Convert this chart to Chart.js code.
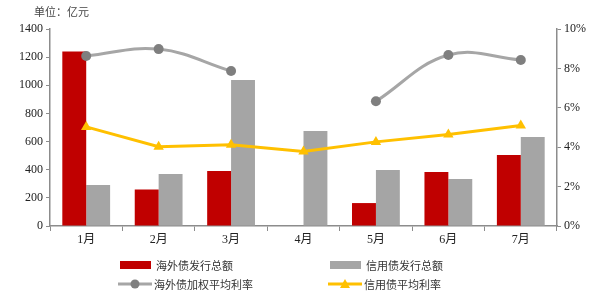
<!DOCTYPE html>
<html>
<head>
<meta charset="utf-8">
<script src="https://cdn.jsdelivr.net/npm/chart.js@4"></script>
<style>
  html, body { margin: 0; padding: 0; background: #fff; }
  #wrap { position: relative; width: 600px; height: 295px; }
</style>
</head>
<body>
<div id="wrap"><canvas id="c" width="600" height="295"></canvas></div>
<script>
// 月份
const months = ['1月', '2月', '3月', '4月', '5月', '6月', '7月'];
// 发行总额（亿元）
const overseasIssue = [1240, 260, 390, 0, 163, 384, 505];
const creditIssue = [292, 370, 1037, 675, 398, 334, 633];
// 利率（%）
const overseasRate = [8.63, 8.98, 7.87, null, 6.33, 8.68, 8.43];
const creditRate = [5.03, 4.02, 4.12, 3.78, 4.27, 4.64, 5.1];
// 刻度
const leftTicks = [0, 200, 400, 600, 800, 1000, 1200, 1400];
const rightTicks = [0, 2, 4, 6, 8, 10];

const axisGray = '#8c8c8c';
const tickFont = { family: "'Liberation Serif', 'Noto Sans CJK SC', serif", size: 12 };
const cjkFont = "11px 'Noto Sans CJK SC', sans-serif";

// 自绘两列图例 + 单位标注
const legendPlugin = {
  id: 'twoColLegend',
  afterDraw(chart) {
    const ctx = chart.ctx;
    const ds = chart.data.datasets;
    const pos = [[120, 265], [330, 265], [118, 284], [328, 284]];
    ctx.save();
    ctx.font = cjkFont;
    ctx.textBaseline = 'middle';
    ds.forEach((d, i) => {
      const [x, y] = pos[i];
      if (d.type === 'bar') {
        ctx.fillStyle = d.backgroundColor;
        ctx.fillRect(x, y - 4, 31, 8);
      } else {
        ctx.strokeStyle = d.borderColor;
        ctx.lineWidth = 3;
        ctx.beginPath(); ctx.moveTo(x, y); ctx.lineTo(x + 34, y); ctx.stroke();
        ctx.fillStyle = d.pointBackgroundColor;
        ctx.beginPath();
        if (d.pointStyle === 'triangle') {
          ctx.moveTo(x + 17, y - 5); ctx.lineTo(x + 22, y + 4); ctx.lineTo(x + 12, y + 4);
        } else {
          ctx.arc(x + 17, y, 4.5, 0, Math.PI * 2);
        }
        ctx.fill();
      }
      ctx.fillStyle = '#333';
      ctx.fillText(d.label, x + 36, y + 1);
    });
    ctx.fillStyle = '#444';
    ctx.fillText('单位：亿元', 34, 12);
    ctx.restore();
  }
};

new Chart(document.getElementById('c'), {
  data: {
    labels: months,
    datasets: [
      {
        type: 'bar', label: '海外债发行总额', data: overseasIssue, yAxisID: 'y',
        backgroundColor: '#C00000', order: 2,
        barPercentage: 1, categoryPercentage: 0.66
      },
      {
        type: 'bar', label: '信用债发行总额', data: creditIssue, yAxisID: 'y',
        backgroundColor: '#A5A5A5', order: 2,
        barPercentage: 1, categoryPercentage: 0.66
      },
      {
        type: 'line', label: '海外债加权平均利率', data: overseasRate, yAxisID: 'y1',
        borderColor: '#A6A6A6', borderWidth: 3, tension: 0.4, spanGaps: false,
        pointStyle: 'circle', pointRadius: 5, pointBackgroundColor: '#7F7F7F',
        pointBorderColor: '#7F7F7F', pointBorderWidth: 0, order: 1
      },
      {
        type: 'line', label: '信用债平均利率', data: creditRate, yAxisID: 'y1',
        borderColor: '#FFC000', borderWidth: 3, tension: 0,
        pointStyle: 'triangle', pointRadius: 6, pointBackgroundColor: '#FFC000',
        pointBorderColor: '#FFC000', pointBorderWidth: 0, order: 1
      }
    ]
  },
  options: {
    responsive: false,
    animation: false,
    layout: { padding: { top: 29, bottom: 47, left: 0, right: 0 } },
    plugins: { legend: { display: false }, tooltip: { enabled: false } },
    scales: {
      x: {
        offset: true,
        grid: { offset: true, drawOnChartArea: false, drawTicks: true, tickLength: 5, color: axisGray },
        border: { display: true, color: axisGray, width: 1.5 },
        ticks: { font: tickFont, color: '#222', padding: 2, maxRotation: 0 },
        afterFit(s) { s.height = 22; }
      },
      y: {
        position: 'left', min: 0, max: 1400,
        afterBuildTicks(s) { s.ticks = leftTicks.map(v => ({ value: v })); },
        grid: { drawOnChartArea: false, drawTicks: true, tickLength: 4, color: axisGray },
        border: { display: true, color: axisGray, width: 1.5 },
        ticks: { font: tickFont, color: '#222', padding: 3, callback: v => String(v) },
        afterFit(s) { s.width = 50; }
      },
      y1: {
        position: 'right', min: 0, max: 10,
        afterBuildTicks(s) { s.ticks = rightTicks.map(v => ({ value: v })); },
        grid: { drawOnChartArea: false, drawTicks: true, tickLength: 4, color: axisGray },
        border: { display: true, color: axisGray, width: 1.5 },
        ticks: { font: tickFont, color: '#222', padding: 3, callback: v => v + '%' },
        afterFit(s) { s.width = 43; }
      }
    }
  },
  plugins: [legendPlugin]
});
</script>
</body>
</html>
